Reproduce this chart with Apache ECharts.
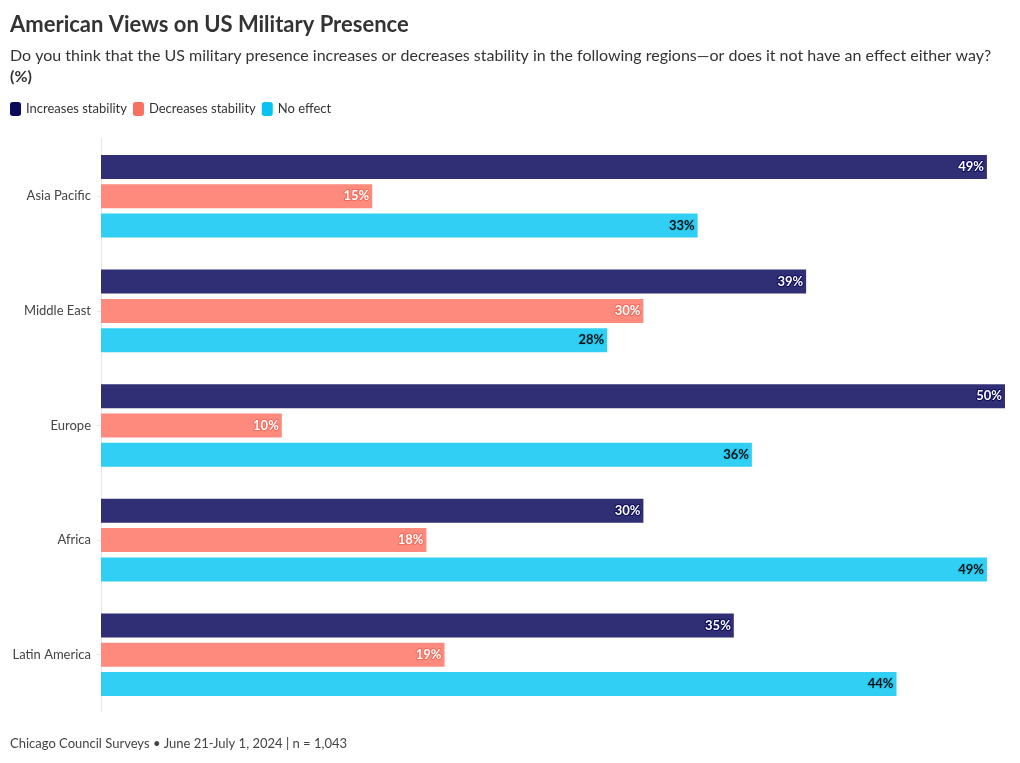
<!DOCTYPE html>
<html><head><meta charset="utf-8">
<script src="https://cdn.jsdelivr.net/npm/echarts@6/dist/echarts.min.js"></script>
<style>html,body{margin:0;padding:0;background:#fff}#c{width:1020px;height:763px}</style>
</head><body><div id="c"></div>
<script>
const categories = ['Asia Pacific', 'Middle East', 'Europe', 'Africa', 'Latin America'];
const seriesNames = ['Increases stability', 'Decreases stability', 'No effect'];
const increases = [49, 39, 50, 30, 35];
const decreases = [15, 30, 10, 18, 19];
const noEffect = [33, 28, 36, 49, 44];

const FONT = 'Lato, "Noto Sans", sans-serif';
const barColors = ['#302e74', '#fd8a7c', '#31cff4'];
const legendColors = ['#0b0b5e', '#f8705f', '#08c3f0'];
const labelColors = ['#ffffff', '#ffffff', '#111111'];
const borderColors = ['#0b0b5e', '#f26a5a', '#22c6ee'];
const values = [increases, decreases, noEffect];

const chart = echarts.init(document.getElementById('c'));
chart.setOption({
  backgroundColor: '#fff',
  textStyle: { fontFamily: FONT },
  title: {
    text: 'American Views on US Military Presence',
    subtext: 'Do you think that the US military presence increases or decreases stability in the following regions—or does it not have an effect either way?\n{b|(%)}',
    left: 10, top: 14, itemGap: 9, padding: 0,
    textStyle: { fontFamily: FONT, fontSize: 22, fontWeight: 'bold', color: '#333' },
    subtextStyle: { fontFamily: FONT, fontSize: 16, color: '#333', lineHeight: 21,
      rich: { b: { fontFamily: FONT, fontSize: 16, fontWeight: 'bold', color: '#333' } } }
  },
  legend: {
    left: 10, top: 102, padding: 0, itemWidth: 11, itemHeight: 14, itemGap: 6,
    icon: 'roundRect',
    textStyle: { fontFamily: FONT, fontSize: 13, color: '#333' },
    data: seriesNames.map((n, i) => ({ name: n, itemStyle: { color: legendColors[i] } }))
  },
  grid: { left: 101, right: 15, top: 139, bottom: 51, containLabel: false },
  xAxis: { type: 'value', min: 0, max: 50, show: false },
  yAxis: {
    type: 'category', data: categories, inverse: true,
    axisLine: { show: true, lineStyle: { color: '#e6e6e6' } },
    axisTick: { show: true, length: 4, alignWithLabel: true, lineStyle: { color: '#e6e6e6' } },
    axisLabel: { fontFamily: FONT, fontSize: 13, color: '#444', margin: 10 }
  },
  series: seriesNames.map((n, i) => ({
    name: n, type: 'bar', data: values[i],
    barWidth: 24, barGap: '22%',
    itemStyle: { color: barColors[i] },
    label: {
      show: true, position: 'insideRight', distance: 3,
      formatter: '{c}%', fontFamily: FONT, fontSize: 13, fontWeight: 'bold',
      color: labelColors[i], textBorderColor: borderColors[i], textBorderWidth: 2
    }
  })),
  graphic: [{
    type: 'text', left: 10, top: 737,
    style: { text: 'Chicago Council Surveys • June 21-July 1, 2024 | n = 1,043', font: '13px ' + FONT, fill: '#444' }
  }]
});
</script></body></html>
